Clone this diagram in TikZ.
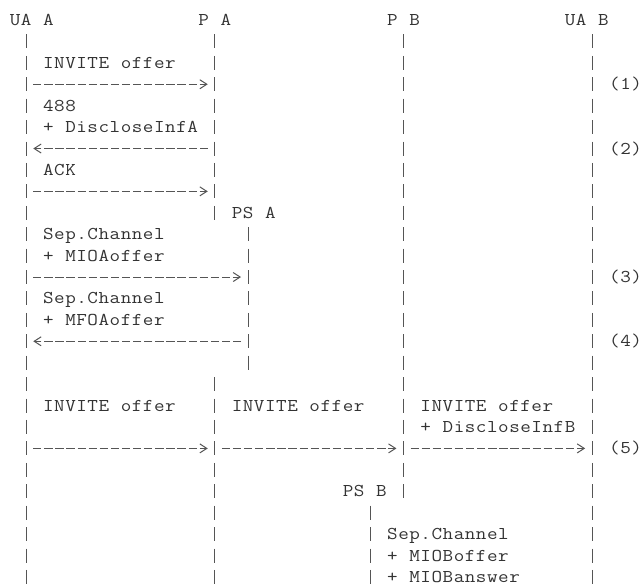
\documentclass[tikz,border=0pt]{standalone}
\usepackage{fontspec}
\usetikzlibrary{arrows.meta,calc}
\definecolor{ink}{HTML}{333333}
\definecolor{rulegray}{HTML}{555555}
\newlength\pitch
\setlength\pitch{11.1pt}
% typewriter text on a fixed 11.1pt character grid, glyphs widened a little
\ExplSyntaxOn
\NewDocumentCommand\mono{m}{\str_map_inline:nn{#1}{\makebox[\pitch][c]{\scalebox{1.14}[1]{##1}}}}
\ExplSyntaxOff
\begin{document}
\begin{tikzpicture}[x=1pt,y=-1pt,
  txt/.style={anchor=base west,inner sep=0pt,outer sep=0pt,text=ink,
    font=\ttfamily\fontsize{18}{18}\selectfont},
  lifeline/.style={draw=rulegray,line width=1pt,dash pattern=on 14pt off 7.42pt},
  msg/.style={draw=rulegray,line width=1pt,dash pattern=on 8.3pt off 2.8pt,
    -{Straight Barb[length=7pt,width=9pt]}}]
\useasboundingbox (0,0) rectangle (641,586);
\def\cw{11.1}
\def\rh{21.42}
% lane positions (column centres)
\coordinate (UAA) at ({15.05+\cw*1},0);
\coordinate (PA)  at ({15.05+\cw*18},0);
\coordinate (PSA) at ({15.05+\cw*21},0);
\coordinate (PSB) at ({15.05+\cw*32},0);
\coordinate (PB)  at ({15.05+\cw*35},0);
\coordinate (UAB) at ({15.05+\cw*52},0);
% row centres
\foreach \r in {0,...,26} \coordinate (r\r) at (0,{20+\rh*\r});

% header labels
\node[txt] (hUAA) at ($(r0)+({9.5+\cw*0},5.5)$)  {\mono{UA A}};
\node[txt] (hPA)  at ($(r0)+({9.5+\cw*17},5.5)$) {\mono{P A}};
\node[txt] (hPB)  at ($(r0)+({9.5+\cw*34},5.5)$) {\mono{P B}};
\node[txt] (hUAB) at ($(r0)+({9.5+\cw*50},5.5)$) {\mono{UA B}};
\node[txt] (hPSA) at ($(r9)+({9.5+\cw*20},5.5)$) {\mono{PS A}};
\node[txt] (hPSB) at ($(r22)+({9.5+\cw*30},5.5)$) {\mono{PS B}};

% lifelines
\draw[lifeline] ($(UAA|-r1)+(0,-7)$) -- ($(UAA|-r26)+(0,7)$);
\draw[lifeline] ($(PA|-r1)+(0,-7)$)  -- ($(PA|-r9)+(0,7)$);
\draw[lifeline] ($(PA|-r17)+(0,-7)$) -- ($(PA|-r26)+(0,7)$);
\draw[lifeline] ($(PSA|-r10)+(0,-7)$) -- ($(PSA|-r16)+(0,7)$);
\draw[lifeline] ($(PB|-r1)+(0,-7)$)  -- ($(PB|-r22)+(0,7)$);
\draw[lifeline] ($(PSB|-r23)+(0,-7)$) -- ($(PSB|-r26)+(0,7)$);
\draw[lifeline] ($(UAB|-r1)+(0,-7)$) -- ($(UAB|-r26)+(0,7)$);

% messages
\draw[msg] ($(UAA|-r3)+(6.95,0)$)  -- ($(PA|-r3)+(-7.1,0)$);
\draw[msg] ($(PA|-r6)+(-6.95,0)$)  -- ($(UAA|-r6)+(7.1,0)$);
\draw[msg] ($(UAA|-r8)+(6.95,0)$)  -- ($(PA|-r8)+(-7.1,0)$);
\draw[msg] ($(UAA|-r12)+(6.95,0)$) -- ($(PSA|-r12)+(-7.1,0)$);
\draw[msg] ($(PSA|-r15)+(-6.95,0)$) -- ($(UAA|-r15)+(7.1,0)$);
\draw[msg] ($(UAA|-r20)+(6.95,0)$) -- ($(PA|-r20)+(-7.1,0)$);
\draw[msg] ($(PA|-r20)+(6.95,0)$)  -- ($(PB|-r20)+(-7.1,0)$);
\draw[msg] ($(PB|-r20)+(6.95,0)$)  -- ($(UAB|-r20)+(-7.1,0)$);

% message texts
\node[txt] (t1)  at ($(r2)+({9.5+\cw*3},5.5)$)  {\mono{INVITE offer}};
\node[txt] (t2)  at ($(r4)+({9.5+\cw*3},5.5)$)  {\mono{488}};
\node[txt] (t3)  at ($(r5)+({9.5+\cw*3},5.5)$)  {\mono{+ DiscloseInfA}};
\node[txt] (t4)  at ($(r7)+({9.5+\cw*3},5.5)$)  {\mono{ACK}};
\node[txt] (t5)  at ($(r10)+({9.5+\cw*3},5.5)$) {\mono{Sep.Channel}};
\node[txt] (t6)  at ($(r11)+({9.5+\cw*3},5.5)$) {\mono{+ MIOAoffer}};
\node[txt] (t7)  at ($(r13)+({9.5+\cw*3},5.5)$) {\mono{Sep.Channel}};
\node[txt] (t8)  at ($(r14)+({9.5+\cw*3},5.5)$) {\mono{+ MFOAoffer}};
\node[txt] (t9)  at ($(r18)+({9.5+\cw*3},5.5)$)  {\mono{INVITE offer}};
\node[txt] (t10) at ($(r18)+({9.5+\cw*20},5.5)$) {\mono{INVITE offer}};
\node[txt] (t11) at ($(r18)+({9.5+\cw*37},5.5)$) {\mono{INVITE offer}};
\node[txt] (t12) at ($(r19)+({9.5+\cw*37},5.5)$) {\mono{+ DiscloseInfB}};
\node[txt] (t13) at ($(r24)+({9.5+\cw*34},5.5)$) {\mono{Sep.Channel}};
\node[txt] (t14) at ($(r25)+({9.5+\cw*34},5.5)$) {\mono{+ MIOBoffer}};
\node[txt] (t15) at ($(r26)+({9.5+\cw*34},5.5)$) {\mono{+ MIOBanswer}};

% step numbers
\node[txt] (s1) at ($(r3)+({9.5+\cw*54},5.5)$)  {\mono{(1)}};
\node[txt] (s2) at ($(r6)+({9.5+\cw*54},5.5)$)  {\mono{(2)}};
\node[txt] (s3) at ($(r12)+({9.5+\cw*54},5.5)$) {\mono{(3)}};
\node[txt] (s4) at ($(r15)+({9.5+\cw*54},5.5)$) {\mono{(4)}};
\node[txt] (s5) at ($(r20)+({9.5+\cw*54},5.5)$) {\mono{(5)}};
\end{tikzpicture}
\end{document}
